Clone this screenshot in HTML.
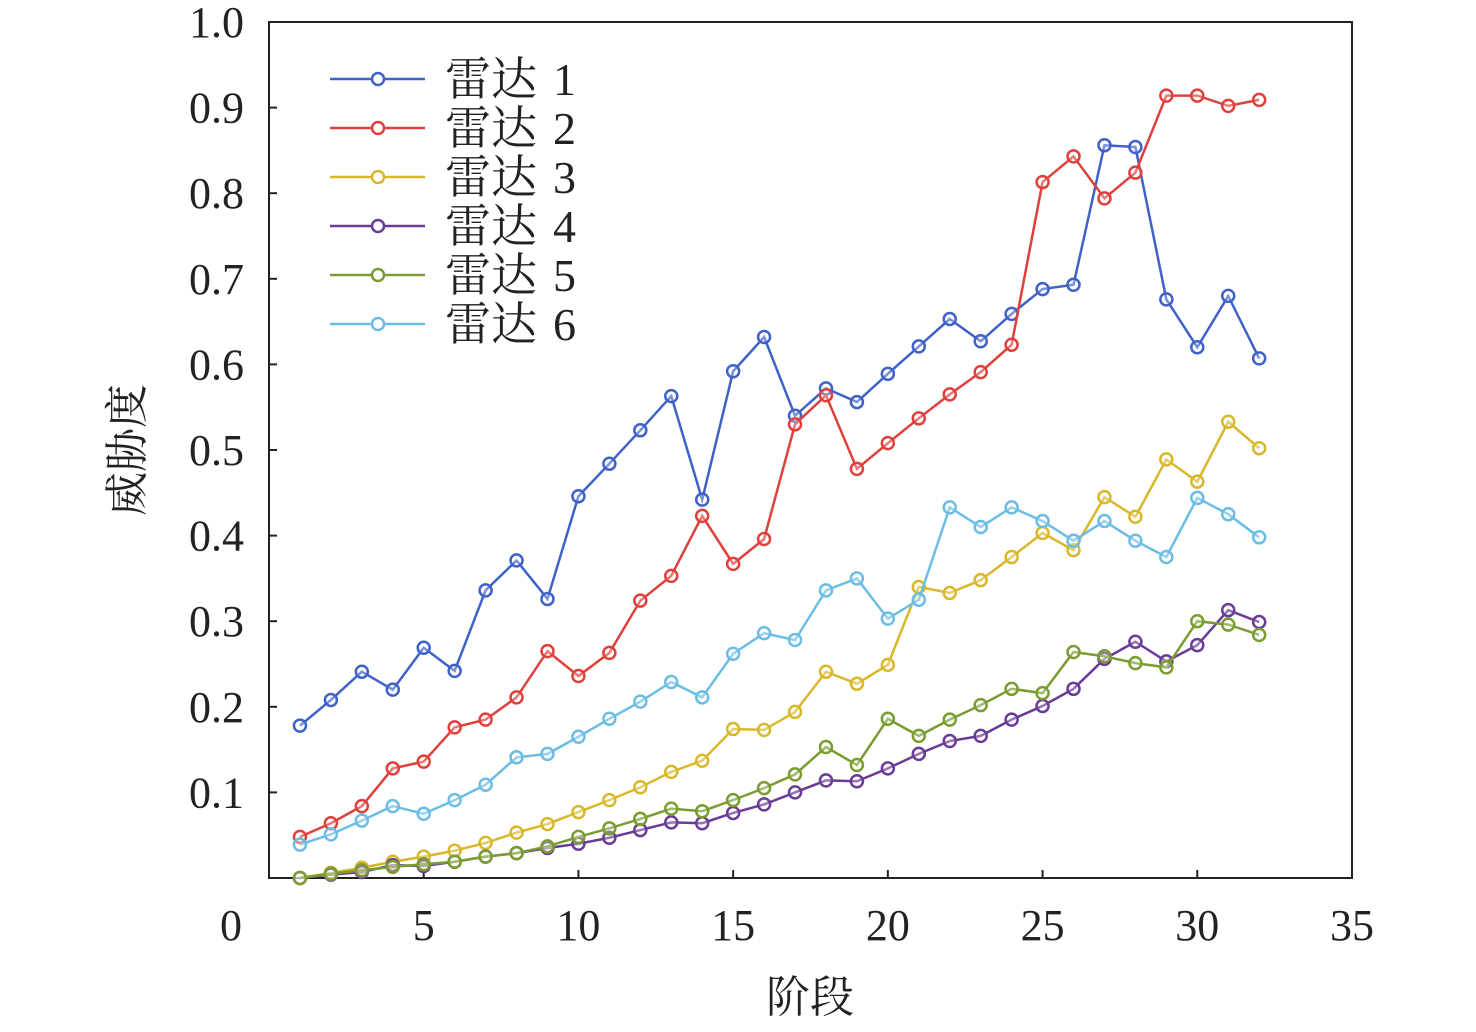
<!DOCTYPE html>
<html><head><meta charset="utf-8"><style>
body{margin:0;background:#fff;}
svg text{fill:#222;}
.lat{font-family:"Liberation Serif",serif;}
.cjk{font-family:"Noto Serif CJK SC","Liberation Serif",serif;}
</style></head><body>
<svg id="c" width="1476" height="1027" xmlns="http://www.w3.org/2000/svg"></svg>
<script>
const stages=[1,2,3,4,5,6,7,8,9,10,11,12,13,14,15,16,17,18,19,20,21,22,23,24,25,26,27,28,29,30,31,32];
const radar1=[0.178,0.208,0.241,0.22,0.269,0.242,0.336,0.371,0.326,0.446,0.484,0.523,0.563,0.442,0.592,0.632,0.54,0.572,0.556,0.589,0.621,0.653,0.627,0.659,0.688,0.693,0.856,0.854,0.676,0.62,0.68,0.607];
const radar2=[0.048,0.064,0.084,0.128,0.136,0.176,0.185,0.211,0.265,0.236,0.263,0.324,0.353,0.423,0.367,0.396,0.53,0.564,0.478,0.508,0.537,0.565,0.591,0.623,0.813,0.843,0.794,0.824,0.914,0.914,0.902,0.909];
const radar3=[0.0,0.006,0.012,0.019,0.025,0.032,0.041,0.053,0.063,0.077,0.091,0.106,0.124,0.137,0.174,0.173,0.194,0.241,0.227,0.249,0.34,0.333,0.348,0.375,0.403,0.383,0.445,0.422,0.489,0.463,0.533,0.502];
const radar4=[0,0.004,0.007,0.015,0.014,0.019,0.025,0.029,0.035,0.04,0.047,0.056,0.065,0.064,0.076,0.086,0.1,0.114,0.113,0.128,0.145,0.16,0.166,0.185,0.201,0.221,0.256,0.276,0.253,0.272,0.313,0.299];
const radar5=[0,0.005,0.009,0.013,0.016,0.019,0.025,0.029,0.037,0.048,0.058,0.069,0.081,0.078,0.091,0.105,0.121,0.153,0.132,0.186,0.166,0.185,0.202,0.221,0.216,0.264,0.259,0.251,0.246,0.3,0.296,0.284];
const radar6=[0.039,0.051,0.067,0.084,0.075,0.091,0.109,0.141,0.145,0.165,0.186,0.206,0.229,0.211,0.262,0.286,0.278,0.336,0.35,0.303,0.325,0.433,0.41,0.433,0.417,0.394,0.417,0.394,0.375,0.444,0.425,0.398];
const seriesNums=["1","2","3","4","5","6"];
const xTicks=[0,5,10,15,20,25,30,35];
const yTicks=[0.1,0.2,0.3,0.4,0.5,0.6,0.7,0.8,0.9,1.0];
const colors=["#3f62c8","#e0403c","#d8b82a","#6a3c96","#7a9c30","#6cbde4"];
const L=269,R=1352,T=22,B=878;
const X=v=>L+(v/35)*(R-L), Y=v=>B-v*(B-T);
const svg=document.getElementById('c');const NS="http://www.w3.org/2000/svg";
function mk(t,a,p){const e=document.createElementNS(NS,t);for(const k in a)e.setAttribute(k,a[k]);(p||svg).appendChild(e);return e;}
let box=mk('rect',{x:L,y:T,width:R-L,height:B-T,fill:'none',stroke:'#222','stroke-width':2});


xTicks.forEach(t=>{
 let l=mk('line',{x1:X(t),x2:X(t),y1:B,y2:B-8,stroke:'#222','stroke-width':2});
 
 
 let tx=mk('text',{x:t===0?231:X(t),y:940,'font-size':44,'text-anchor':'middle','class':'lat'});tx.textContent=t;
 
 
});
yTicks.forEach(t=>{
 let l=mk('line',{x1:L,x2:L+8,y1:Y(t),y2:Y(t),stroke:'#222','stroke-width':2});
 
 
 let tx=mk('text',{x:244,y:Y(t)+15,'font-size':44,'text-anchor':'end','class':'lat'});tx.textContent=t.toFixed(1);
 
 
});
let xt=mk('text',{x:810,y:1012,'font-size':44,'text-anchor':'middle','class':'cjk'});xt.textContent='阶段';


let yt=mk('text',{x:0,y:0,'font-size':44,'text-anchor':'middle','class':'cjk',transform:'translate(142,450) rotate(-90)'});yt.textContent='威胁度';


const all=[radar1,radar2,radar3,radar4,radar5,radar6];
all.forEach((d,i)=>{
 const g=mk('g',{});
 
 
 mk('polyline',{points:d.map((v,j)=>X(stages[j])+','+Y(v)).join(' '),fill:'none',stroke:colors[i],'stroke-width':2.5},g);
 d.forEach((v,j)=>{
  const c=mk('circle',{cx:X(stages[j]),cy:Y(v),r:6,fill:'#fff','fill-opacity':0.3,stroke:colors[i],'stroke-width':2.5},g);
  
  
 });
});
seriesNums.forEach((n,i)=>{
 const y=79+i*49;
 const g=mk('g',{});
 
 
 mk('line',{x1:330,x2:425,y1:y,y2:y,stroke:colors[i],'stroke-width':2.5},g);
 mk('circle',{cx:378,cy:y,r:6,fill:'#fff',stroke:colors[i],'stroke-width':2.5},g);
 const t=mk('text',{x:445,y:y+16,'font-size':46,'class':'cjk'},g);t.textContent='雷达';
 const t2=mk('text',{x:553,y:y+16,'font-size':46,'class':'lat'},g);t2.textContent=n;
});
</script>
</body></html>
